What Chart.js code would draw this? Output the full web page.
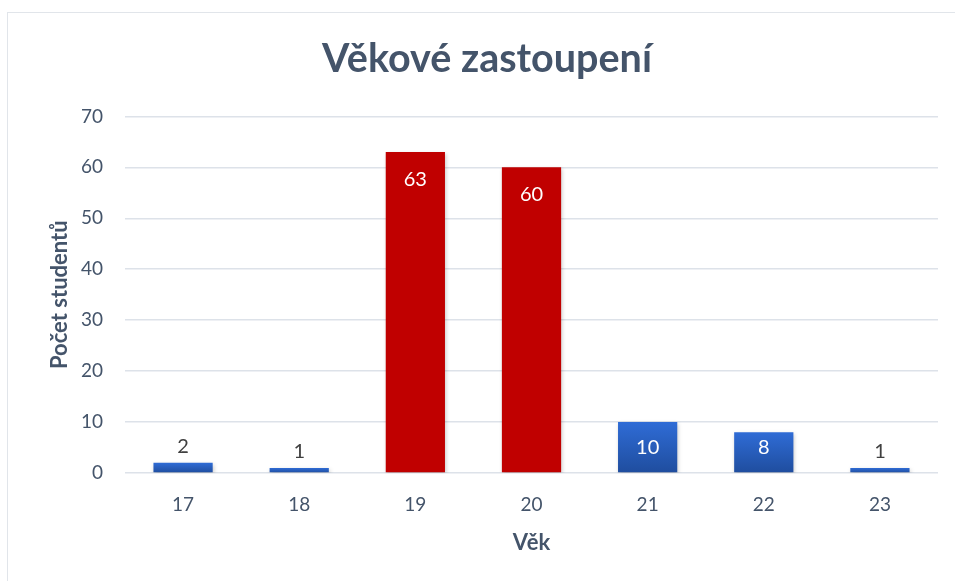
<!DOCTYPE html>
<html>
<head>
<meta charset="utf-8">
<script src="https://cdn.jsdelivr.net/npm/chart.js@4"></script>
<style>
  html, body { margin: 0; padding: 0; background: #fff; }
  #frame { position: absolute; left: 7px; top: 12px; width: 960px; height: 580px; border: 1px solid #e1e5ea; }
  #wrap { position: absolute; left: 0; top: 0; width: 955px; height: 581px; }
</style>
</head>
<body>
<div id="frame"></div>
<div id="wrap"><canvas id="chartAge"></canvas></div>
<script>
// Data
const ages = ['17', '18', '19', '20', '21', '22', '23'];
const students = [2, 1, 63, 60, 10, 8, 1];
const highlighted = ['19', '20'];
const yTicks = [0, 10, 20, 30, 40, 50, 60, 70];

const TEXT = '#44546a';
const FONT = 'Lato, "Open Sans", sans-serif';

function barFill(ctx) {
    const chart = ctx.chart;
    const label = chart.data.labels[ctx.dataIndex];
    if (highlighted.includes(label)) return '#c00000';
    const y = chart.scales.y;
    if (!y || ctx.parsed === undefined) return '#2b63c6';
    const top = y.getPixelForValue(ctx.parsed.y);
    const base = y.getPixelForValue(0);
    if (!isFinite(top) || !isFinite(base) || top === base) return '#2b63c6';
    const g = chart.ctx.createLinearGradient(0, top, 0, base);
    g.addColorStop(0, '#2f6cd6');
    g.addColorStop(1, '#1f4d9e');
    return g;
}

// soft shadow under the bars
const barShadow = {
    id: 'barShadow',
    beforeDatasetDraw(chart) {
        const c = chart.ctx;
        c.save();
        c.shadowColor = 'rgba(0,0,0,0.22)';
        c.shadowBlur = 4;
        c.shadowOffsetX = 1;
        c.shadowOffsetY = 2;
    },
    afterDatasetDraw(chart) {
        chart.ctx.restore();
    }
};

// value labels: inside the bar when it is tall enough, above it otherwise
const valueLabels = {
    id: 'valueLabels',
    afterDatasetsDraw(chart) {
        const c = chart.ctx;
        const meta = chart.getDatasetMeta(0);
        c.save();
        c.font = '20px ' + FONT;
        c.textAlign = 'center';
        c.textBaseline = 'middle';
        meta.data.forEach((bar, i) => {
            const h = bar.base - bar.y;
            if (h > 30) {
                c.fillStyle = '#ffffff';
                const off = h > 45 ? Math.min(27, h / 2) : h / 2 - 5;
                c.fillText(String(students[i]), bar.x, bar.y + off);
            } else {
                c.fillStyle = '#404040';
                c.fillText(String(students[i]), bar.x, bar.y - 16);
            }
        });
        c.restore();
    }
};

new Chart(document.getElementById('chartAge').getContext('2d'), {
    type: 'bar',
    data: {
        labels: ages,
        datasets: [{
            label: 'Počet studentů',
            data: students,
            backgroundColor: barFill,
            borderWidth: 0,
            categoryPercentage: 1,
            barPercentage: 0.51
        }]
    },
    options: {
        responsive: true,
        maintainAspectRatio: false,
        animation: false,
        layout: { padding: { left: 36, right: 17, top: 28, bottom: 0 } },
        plugins: {
            legend: { display: false },
            tooltip: { enabled: false },
            title: {
                display: true,
                text: 'Věkové zastoupení',
                color: TEXT,
                font: { family: FONT, size: 39.5, weight: 'bold' },
                padding: { top: 8, bottom: 33 }
            }
        },
        scales: {
            x: {
                grid: { display: false, drawTicks: false },
                border: { display: false },
                ticks: { color: TEXT, font: { family: FONT, size: 19 }, padding: 20 },
                afterFit: (axis) => { axis.height = 108; },
                title: {
                    display: true,
                    text: 'Věk',
                    color: TEXT,
                    font: { family: FONT, size: 22, weight: 'bold' },
                    padding: { top: 4, bottom: 25 }
                }
            },
            y: {
                min: 0,
                max: 70,
                afterBuildTicks: (axis) => { axis.ticks = yTicks.map(v => ({ value: v })); },
                afterFit: (axis) => { axis.width = 89; },
                grid: { color: '#dde2e9', lineWidth: 1.5, drawTicks: false },
                border: { display: false },
                ticks: { color: TEXT, font: { family: FONT, size: 19 }, padding: 22 },
                title: {
                    display: true,
                    text: 'Počet studentů',
                    color: TEXT,
                    font: { family: FONT, size: 22, weight: 'bold' },
                    padding: { top: 11, bottom: 4 }
                }
            }
        }
    },
    plugins: [barShadow, valueLabels]
});
</script>
</body>
</html>
